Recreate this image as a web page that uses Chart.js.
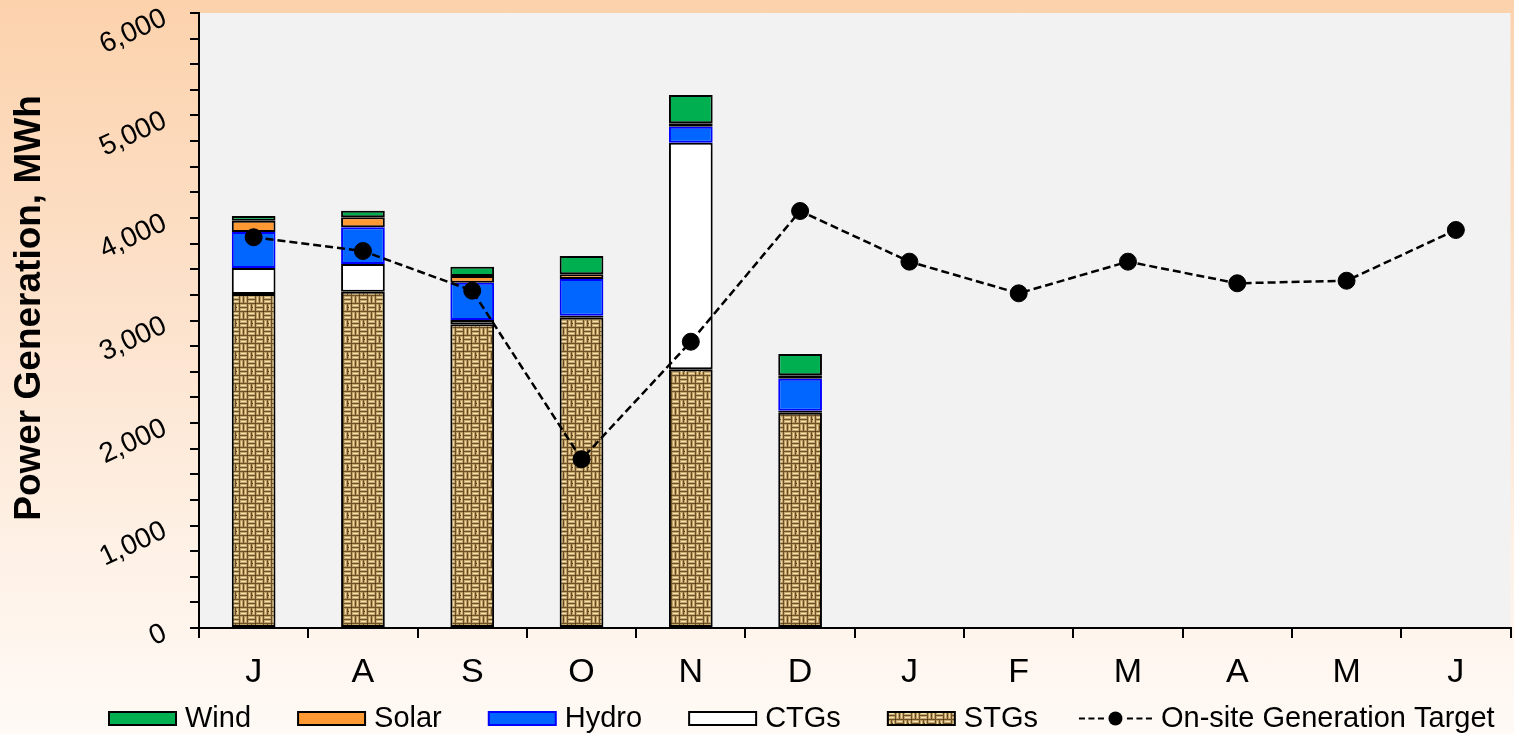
<!DOCTYPE html>
<html>
<head>
<meta charset="utf-8">
<script src="https://cdn.jsdelivr.net/npm/chart.js@4.4.1/dist/chart.umd.min.js"></script>
<style>
html,body{margin:0;padding:0;overflow:hidden;width:1514px;height:734px;
background:linear-gradient(to bottom,#FCD2AC 0%,#FCE1CA 40%,#FEF1E6 75%,#FFFAF6 100%);}
canvas{display:block;}
</style>
</head>
<body>
<canvas id="c" width="1520" height="734"></canvas>
<script>
const months = ['J','A','S','O','N','D','J','F','M','A','M','J'];
const stgs  = [3259, 3281, 2963, 3031, 2524, 2100, null, null, null, null, null, null];
const ctgs  = [254, 270, 42, 16, 2211, 20, null, null, null, null, null, null];
const hydro = [351, 358, 364, 358, 156, 312, null, null, null, null, null, null];
const solar = [110, 98, 65, 46, 33, 33, null, null, null, null, null, null];
const wind  = [46, 64, 91, 179, 276, 208, null, null, null, null, null, null];
const target = [3812, 3678, 3291, 1646, 2793, 4068, 3574, 3265, 3574, 3363, 3388, 3883];
const yTickValues = [0, 1000, 2000, 3000, 4000, 5000, 6000];
const yTickLabels = ['0', '1,000', '2,000', '3,000', '4,000', '5,000', '6,000'];
const yTitle = 'Power Generation, MWh';
const legendOrder = ['Wind', 'Solar', 'Hydro', 'CTGs', 'STGs', 'On-site Generation Target'];

// burlap-like woven texture for STGs
function makeWeave() {
  const t = document.createElement('canvas');
  t.width = 16; t.height = 16;
  const g = t.getContext('2d');
  g.fillStyle = '#6E5026';
  g.fillRect(0, 0, 16, 16);
  function hStrands(x0, y0) {
    for (let k = 0; k < 2; k++) {
      const y = y0 + k * 4;
      g.fillStyle = '#C6A870'; g.fillRect(x0, y, 7, 3);
      g.fillStyle = '#F2E2AE'; g.fillRect(x0 + 1, y + 1, 5, 1);
    }
  }
  function vStrands(x0, y0) {
    for (let k = 0; k < 2; k++) {
      const x = x0 + k * 4;
      g.fillStyle = '#BE9E64'; g.fillRect(x, y0, 3, 7);
      g.fillStyle = '#ECD9A2'; g.fillRect(x + 1, y0 + 1, 1, 5);
    }
  }
  hStrands(0, 0); vStrands(8, 0); vStrands(0, 8); hStrands(8, 8);
  g.fillStyle = '#45300F';
  g.fillRect(7, 7, 1, 1); g.fillRect(15, 15, 1, 1); g.fillRect(3, 11, 1, 1); g.fillRect(12, 3, 1, 1);
  return g.createPattern(t, 'repeat');
}
const ctx = document.getElementById('c').getContext('2d');
const weave = makeWeave();

const axisText = {
  id: 'axisText',
  beforeDraw(chart) {
    const {ctx, chartArea: a} = chart;
    ctx.save();
    ctx.fillStyle = '#F2F2F2';
    ctx.fillRect(a.left, a.top, a.right - a.left, a.bottom - a.top);
    ctx.restore();
  },
  afterDraw(chart) {
    const {ctx} = chart;
    const y = chart.scales.y;
    ctx.save();
    ctx.fillStyle = '#000';
    ctx.font = '28px "Liberation Sans", Arial, sans-serif';
    ctx.textAlign = 'right';
    ctx.textBaseline = 'middle';
    yTickValues.forEach((v, i) => {
      const py = y.getPixelForValue(v);
      ctx.save();
      ctx.translate(165, py + 4);
      ctx.rotate(-25 * Math.PI / 180);
      ctx.fillText(yTickLabels[i], 0, 0);
      ctx.restore();
    });
    // axis title
    ctx.save();
    ctx.font = 'bold 37px "Liberation Sans", Arial, sans-serif';
    ctx.textAlign = 'center';
    ctx.translate(30, 308);
    ctx.rotate(-Math.PI / 2);
    ctx.fillText(yTitle, 0, 0);
    ctx.restore();
    ctx.restore();
  }
};

// legend drawn on the canvas
const customLegend = {
  id: 'customLegend',
  afterDraw(chart) {
    const {ctx} = chart;
    const ds = chart.data.datasets;
    const items = legendOrder.map(name => ds.find(d => d.label === name));
    const cy = 718.5;
    let x = 109;
    ctx.save();
    ctx.font = '29px "Liberation Sans", Arial, sans-serif';
    ctx.textBaseline = 'middle';
    ctx.textAlign = 'left';
    items.forEach((d) => {
      if (d.type === 'line') {
        x -= 6;
        const symW = 73;
        ctx.save();
        ctx.strokeStyle = '#000'; ctx.lineWidth = 2; ctx.setLineDash([6, 3.5]);
        ctx.beginPath(); ctx.moveTo(x, cy); ctx.lineTo(x + 27, cy); ctx.stroke();
        ctx.beginPath(); ctx.moveTo(x + symW, cy); ctx.lineTo(x + symW - 27, cy); ctx.stroke();
        ctx.setLineDash([]);
        ctx.fillStyle = '#000';
        ctx.beginPath(); ctx.arc(x + symW / 2, cy, 7, 0, Math.PI * 2); ctx.fill();
        ctx.restore();
        x += symW + 9;
      } else {
        const symW = 67;
        ctx.save();
        ctx.fillStyle = d.backgroundColor;
        ctx.fillRect(x, cy - 6.5, symW, 13);
        ctx.strokeStyle = d.borderColor; ctx.lineWidth = 2;
        ctx.strokeRect(x, cy - 6.5, symW, 13);
        ctx.restore();
        x += symW + 9;
      }
      ctx.fillStyle = '#000';
      ctx.fillText(d.label, x, cy);
      x += ctx.measureText(d.label).width + 47;
    });
    ctx.restore();
  }
};

const barCommon = {
  type: 'bar',
  stack: 's',
  borderWidth: 2,
  borderSkipped: false,
  barPercentage: 0.4,
  categoryPercentage: 1.0
};

new Chart(ctx, {
  data: {
    labels: months,
    datasets: [
      Object.assign({}, barCommon, {label: 'STGs', data: stgs, backgroundColor: weave, borderColor: '#000'}),
      Object.assign({}, barCommon, {label: 'CTGs', data: ctgs, backgroundColor: '#FFFFFF', borderColor: '#000'}),
      Object.assign({}, barCommon, {label: 'Hydro', data: hydro, backgroundColor: '#0066FF', borderColor: '#0000FF'}),
      Object.assign({}, barCommon, {label: 'Solar', data: solar, backgroundColor: '#FF9933', borderColor: '#000'}),
      Object.assign({}, barCommon, {label: 'Wind', data: wind, backgroundColor: '#00B050', borderColor: '#000'}),
      {
        type: 'line', label: 'On-site Generation Target', data: target, order: -1,
        borderColor: '#000', borderWidth: 2.5, borderDash: [8, 4], backgroundColor: '#000',
        pointRadius: 8.5, pointHoverRadius: 8.5, pointBackgroundColor: '#000', pointBorderColor: '#000',
        pointBorderWidth: 1, pointStyle: 'circle', tension: 0, fill: false
      }
    ]
  },
  options: {
    responsive: false,
    animation: false,
    layout: {padding: {top: 13, right: 1, bottom: 46, left: 0}},
    scales: {
      x: {
        stacked: true,
        offset: true,
        grid: {display: true, offset: true, drawOnChartArea: false, drawTicks: true, tickLength: 10, color: '#000', lineWidth: 2},
        border: {display: true, color: '#000', width: 2},
        ticks: {color: '#000', padding: 14, font: {family: '"Liberation Sans", Arial, sans-serif', size: 34}, maxRotation: 0, autoSkip: false},
        afterFit(s) { s.height = 60; }
      },
      y: {
        stacked: true,
        min: 0, max: 6000,
        ticks: {stepSize: 250, display: false},
        grid: {display: true, drawOnChartArea: false, drawTicks: true, tickLength: 9, color: '#000', lineWidth: 2},
        border: {display: true, color: '#000', width: 2},
        title: {display: false},
        afterFit(s) { s.width = 199; }
      }
    },
    plugins: {
      tooltip: {enabled: false},
      legend: {display: false}
    }
  },
  plugins: [axisText, customLegend]
});
</script>
</body>
</html>
